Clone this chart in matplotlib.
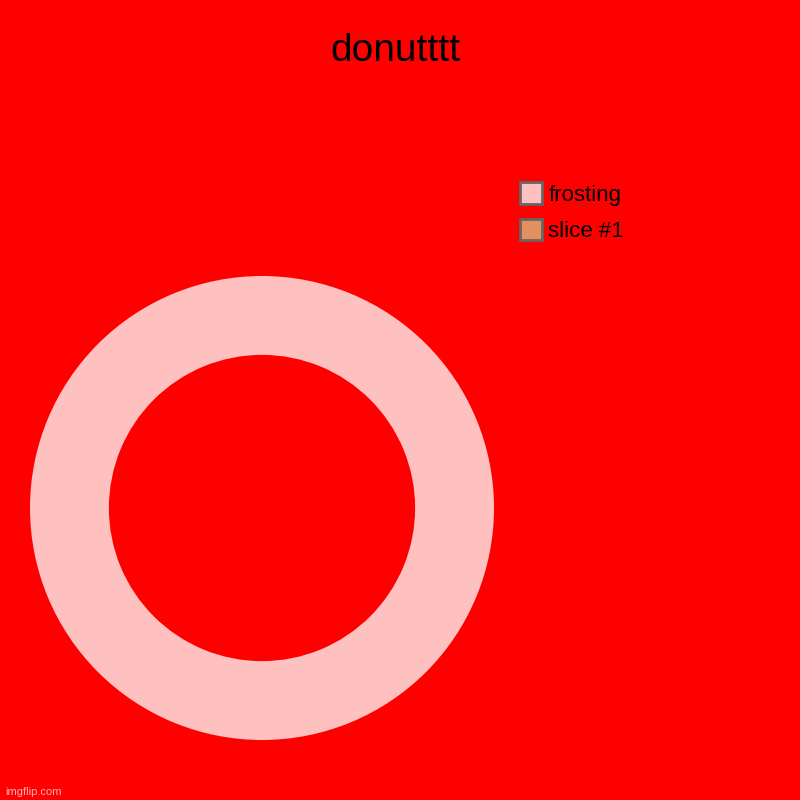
import matplotlib.pyplot as plt
from matplotlib.patches import Patch

plt.rcParams['font.family'] = ['Liberation Sans', 'DejaVu Sans']

labels = ['frosting', 'slice #1']
values = [100, 0]
colors = ['#ffc0c0', '#e0915f']

fig = plt.figure(figsize=(8, 8), dpi=100, facecolor='#ff0000')
ax = fig.add_axes([0.0375, 0.075, 0.58, 0.58])
ax.set_facecolor('#ff0000')

ax.pie(values, colors=colors, radius=1, startangle=90, counterclock=False,
       wedgeprops=dict(width=0.34, linewidth=0))
ax.set_xlim(-1, 1)
ax.set_ylim(-1, 1)
ax.set_aspect('equal')
ax.axis('off')

fig.text(0.494, 0.936, 'donutttt', ha='center', va='center', fontsize=28)

handles = [Patch(facecolor=c, edgecolor='#666666', linewidth=2) for c in colors]
leg = fig.legend(handles, labels, loc='upper left', bbox_to_anchor=(0.636, 0.786),
                 frameon=False, fontsize=16, handlelength=1.0, handleheight=1.1,
                 handletextpad=0.28, labelspacing=0.6, borderpad=0)

fig.text(0.006, 0.004, 'imgflip.com', fontsize=8, color='#ffb0b0', ha='left', va='bottom')

fig.savefig('out.png', dpi=100, facecolor=fig.get_facecolor())
